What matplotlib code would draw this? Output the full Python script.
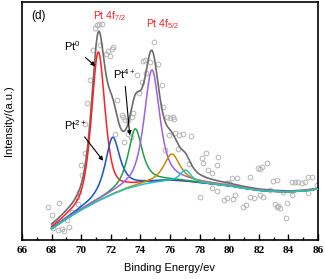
import numpy as np
import matplotlib.pyplot as plt
from matplotlib.ticker import MultipleLocator

plt.rcParams["font.family"] = ["Liberation Sans", "DejaVu Sans"]
plt.rcParams["mathtext.fontset"] = "custom"
plt.rcParams["mathtext.rm"] = "Liberation Sans"

# Shirley-type background (eV, intensity a.u.)
bg_ev = [68, 68.5, 69, 69.5, 70, 70.5, 71, 71.5, 72, 72.5, 73, 73.5, 74, 74.5,
         75, 75.5, 76, 77, 78, 79, 80, 81, 82, 83, 84, 85, 86]
bg_int = [11, 16, 21, 25.5, 30, 34, 38, 41.5, 45, 48, 51, 53, 55, 56.5,
          57.5, 58.5, 59, 58.5, 57, 55.5, 54, 51.5, 49.5, 48.5, 48, 49, 51]

# Fitted components: Pt0 4f7/2, Pt2+ 4f7/2, Pt4+ 4f7/2, Pt0 4f5/2, Pt2+ 4f5/2, Pt4+ 4f5/2
peak_center = [71.15, 72.12, 73.65, 74.78, 76.13, 77.05]
peak_height = [149, 57, 57.5, 113, 27, 11.5]
peak_fwhm = [1.1, 1.2, 1.15, 1.25, 1.3, 0.9]
peak_eta = [0.6, 0.85, 0.85, 0.7, 0.8, 0.7]
peak_colors = ["#ff2020", "#1452d8", "#1e9e48", "#a060e0", "#c88a00", "#18c6c8"]

# Raw data points
raw_ev = [67.78, 68.0, 68.52, 68.23, 68.12, 68.45, 68.68, 68.84, 69.18, 69.02,
          69.36, 69.7, 69.87, 69.8, 70.0, 70.26, 70.03, 70.41, 70.26, 70.62,
          70.8, 70.93, 71.05, 71.22, 71.43, 71.27, 71.68, 71.83, 71.95, 72.06,
          72.17, 72.28, 72.45, 72.74, 72.85, 72.96, 73.18, 73.41, 72.89, 73.18,
          73.34, 73.52, 73.93, 73.79, 74.09, 74.38, 74.15, 74.31, 74.65, 74.92,
          75.21, 75.44, 75.54, 75.77, 75.99, 76.22, 76.29, 75.95, 76.34, 76.63,
          76.9, 77.42, 75.66, 76.56, 77.3, 78.14, 78.43, 78.25, 79.26, 79.2,
          78.59, 78.82, 78.03, 78.82, 79.2, 79.65, 79.83, 79.87, 80.17, 80.51,
          81.41, 80.01, 79.83, 80.39, 80.28, 81.41, 81.7, 82.08, 82.3, 82.2,
          82.08, 82.53, 82.98, 83.21, 82.76, 83.09, 83.32, 83.21, 83.66, 84.22,
          84.45, 84.67, 84.9, 85.12, 85.34, 85.57, 85.34, 85.91, 83.84, 83.43,
          84.22, 80.96, 81.14, 83.88, 81.97]
raw_int = [32.7, 25, 37.3, 17.3, 11.7, 10, 11, 9, 12.7, 20,
           28.3, 43.3, 48.3, 36, 75, 86.7, 65, 136.7, 116, 160,
           190, 211.7, 215, 216, 215.7, 195, 186, 189.3, 184, 190.7,
           193.3, 106, 140, 125, 123.3, 120, 120, 123.3, 98.3, 106,
           102.7, 126.7, 147.3, 165, 158.3, 166.7, 179.3, 180, 178.3, 198.3,
           175.7, 155, 133.3, 123.3, 121.7, 123.3, 121, 105, 106.7, 105,
           106, 104.3, 90, 91, 76, 81.7, 86.7, 77.3, 83.3, 75,
           70, 66.7, 43.3, 51.7, 49.3, 40, 41.7, 57.3, 61.7, 61.7,
           63.3, 57.3, 56.7, 45, 40.7, 43.3, 42.3, 45, 43.3, 73.3,
           70.7, 76.7, 59, 60, 50, 36, 34.3, 33.3, 48.3, 58.3,
           58.3, 57.7, 56.7, 57.7, 63.3, 63.3, 46.7, 55, 21.7, 31.7,
           45, 32.7, 34.7, 36.7, 71.7]


def pseudo_voigt(x, c, h, fwhm, eta):
    g = np.exp(-4 * np.log(2) * ((x - c) / fwhm) ** 2)
    l = 1 / (1 + (2 * (x - c) / fwhm) ** 2)
    return h * ((1 - eta) * g + eta * l)


x = np.linspace(68, 86, 901)
bg = np.interp(x, bg_ev, bg_int)
peaks = [pseudo_voigt(x, c, h, w, e) for c, h, w, e in
         zip(peak_center, peak_height, peak_fwhm, peak_eta)]
envelope = bg + np.sum(peaks, axis=0)

fig = plt.figure(figsize=(3.25, 2.79), dpi=100)
ax = fig.add_axes([22 / 325, 39 / 279, 296 / 325, 238 / 279])

ax.plot(raw_ev, raw_int, "o", mfc="none", mec="#b4b4b4", ms=3.4, mew=0.7, zorder=1)
ax.plot(x, envelope, color="#6c6c6c", lw=1.2, zorder=2)
for p, col in zip(peaks, peak_colors):
    ax.plot(x, bg + p, color=col, lw=1.1, zorder=3)

ax.set_xlim(66, 86)
ax.set_ylim(0, 238)
ax.set_yticks([])
ax.set_xticks(range(66, 87, 2))
ax.xaxis.set_minor_locator(MultipleLocator(1))
ax.tick_params(axis="x", which="major", direction="in", length=4, width=1, pad=4)
ax.tick_params(axis="x", which="minor", direction="in", length=2.5, width=1)
for lab in ax.get_xticklabels():
    lab.set_fontfamily("Liberation Serif")
    lab.set_fontweight("bold")
    lab.set_fontsize(8)
for s in ax.spines.values():
    s.set_linewidth(1.2)

ax.set_xlabel("Binding Energy/ev", fontsize=8, labelpad=6)
ax.set_ylabel("Intensity/(a.u.)", fontsize=8, labelpad=6)

# annotations
ax.text(0.031, 0.943, "(d)", transform=ax.transAxes, fontsize=8.5, ha="left", va="center")
ax.text(71.9, 224, r"Pt 4f$\mathregular{_{7/2}}$", color="#ff2020", fontsize=7.5, ha="center", va="center")
ax.text(75.5, 216, r"Pt 4f$\mathregular{_{5/2}}$", color="#ff2020", fontsize=7.5, ha="center", va="center")

arrow = dict(arrowstyle="-|>", color="black", lw=0.8, mutation_scale=6)
ax.annotate(r"Pt$\mathregular{^{0}}$", xy=(71.1, 172), xytext=(69.4, 194),
            fontsize=8, ha="center", va="center", arrowprops=arrow)
ax.annotate(r"Pt$\mathregular{^{4+}}$", xy=(73.3, 102), xytext=(72.9, 166),
            fontsize=8, ha="center", va="center", arrowprops=arrow)
ax.annotate(r"Pt$\mathregular{^{2+}}$", xy=(71.6, 77), xytext=(69.6, 115),
            fontsize=8, ha="center", va="center", arrowprops=arrow)

plt.savefig("out.png", dpi=100)
